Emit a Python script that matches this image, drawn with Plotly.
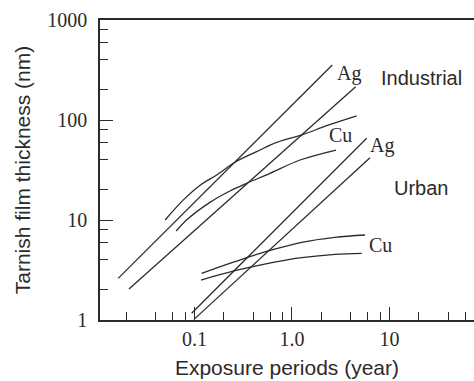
import plotly.graph_objects as go

# Tarnish film growth on silver and copper, industrial vs urban exposure
ind_ag_a_x = [0.0165, 2.59]
ind_ag_a_y = [2.61, 355]
ind_ag_b_x = [0.0213, 4.50]
ind_ag_b_y = [2.04, 215]

ind_cu_a_x = [0.050, 0.077, 0.118, 0.169, 0.260, 0.434, 0.697, 1.31, 2.27, 4.61]
ind_cu_a_y = [10.0, 15.9, 22.8, 28.2, 37.8, 48.2, 59.8, 71.9, 87.7, 110]
ind_cu_b_x = [0.065, 0.083, 0.144, 0.231, 0.343, 0.595, 1.21, 2.83]
ind_cu_b_y = [7.76, 10.0, 15.0, 19.5, 23.3, 29.3, 39.8, 50.1]

urb_ag_a_x = [0.0936, 5.84]
urb_ag_a_y = [1.17, 65.6]
urb_ag_b_x = [0.0995, 6.31]
urb_ag_b_y = [1.02, 42.0]

urb_cu_a_x = [0.1185, 0.260, 0.571, 1.257, 2.76, 5.61]
urb_cu_a_y = [2.93, 3.83, 4.90, 5.98, 6.71, 7.08]
urb_cu_b_x = [0.1166, 0.260, 0.571, 1.257, 2.76, 5.19]
urb_cu_b_y = [2.51, 3.11, 3.69, 4.20, 4.54, 4.64]

x_tickvals = [0.1, 1, 10]
x_ticktext = ["0.1", "1.0", "10"]
x_minor = [0.02, 0.04, 0.06, 0.08, 0.2, 0.4, 0.6, 0.8, 2, 4, 6, 8, 20, 40, 60]
y_tickvals = [1, 10, 100, 1000]
y_ticktext = ["1", "10", "100", "1000"]
y_minor = [2, 4, 6, 8, 20, 40, 60, 80, 200, 400, 600, 800]

INK = "#2b2b2b"
SERIF = "Liberation Serif"
SANS = "Liberation Sans"

fig = go.Figure()

straight = [
    (ind_ag_a_x, ind_ag_a_y), (ind_ag_b_x, ind_ag_b_y),
    (urb_ag_a_x, urb_ag_a_y), (urb_ag_b_x, urb_ag_b_y),
]
curved = [
    (ind_cu_a_x, ind_cu_a_y), (ind_cu_b_x, ind_cu_b_y),
    (urb_cu_a_x, urb_cu_a_y), (urb_cu_b_x, urb_cu_b_y),
]
for xs, ys in straight:
    fig.add_trace(go.Scatter(x=xs, y=ys, mode="lines",
                             line=dict(color=INK, width=1.3),
                             showlegend=False, hoverinfo="skip"))
for xs, ys in curved:
    fig.add_trace(go.Scatter(x=xs, y=ys, mode="lines",
                             line=dict(color=INK, width=1.3, shape="spline", smoothing=1.0),
                             showlegend=False, hoverinfo="skip"))

labels = [
    ("Ag", 0.6658, 0.8233, SERIF),
    ("Industrial", 0.8596, 0.8067, SANS),
    ("Cu", 0.6430, 0.6167, SERIF),
    ("Ag", 0.7527, 0.5833, SERIF),
    ("Urban", 0.8583, 0.4400, SANS),
    ("Cu", 0.7513, 0.2500, SERIF),
]
for text, px, py, fam in labels:
    fig.add_annotation(text=text, x=px, y=py, xref="paper", yref="paper",
                       xanchor="center", yanchor="middle", showarrow=False,
                       font=dict(family=fam, size=20, color=INK))

fig.update_xaxes(
    type="log", range=[-1.969, 1.867],
    tickmode="array", tickvals=x_tickvals, ticktext=x_ticktext,
    ticks="inside", ticklen=13, tickwidth=1.3, tickcolor=INK,
    minor=dict(tickmode="array", tickvals=x_minor, ticks="inside",
               ticklen=8, tickwidth=1.3, tickcolor=INK, showgrid=False),
    showline=True, linecolor=INK, linewidth=1.5, mirror=True,
    showgrid=False, zeroline=False,
    tickfont=dict(family=SERIF, size=20, color=INK),
    title=dict(text="Exposure periods (year)", font=dict(family=SANS, size=21, color=INK),
               standoff=12),
)
fig.update_yaxes(
    type="log", range=[0, 3],
    tickmode="array", tickvals=y_tickvals, ticktext=y_ticktext,
    ticks="inside", ticklen=13, tickwidth=1.3, tickcolor=INK,
    minor=dict(tickmode="array", tickvals=y_minor, ticks="inside",
               ticklen=8, tickwidth=1.3, tickcolor=INK, showgrid=False),
    showline=True, linecolor=INK, linewidth=1.5, mirror=False,
    showgrid=False, zeroline=False,
    ticklabelstandoff=7,
    tickfont=dict(family=SERIF, size=20, color=INK),
    title=dict(text="Tarnish film thickness (nm)", font=dict(family=SANS, size=21, color=INK),
               standoff=11),
)

fig.update_layout(
    width=474, height=381,
    margin=dict(l=100, r=0, t=20, b=61, autoexpand=False),
    paper_bgcolor="white", plot_bgcolor="white",
)

fig.write_html("out.html")
